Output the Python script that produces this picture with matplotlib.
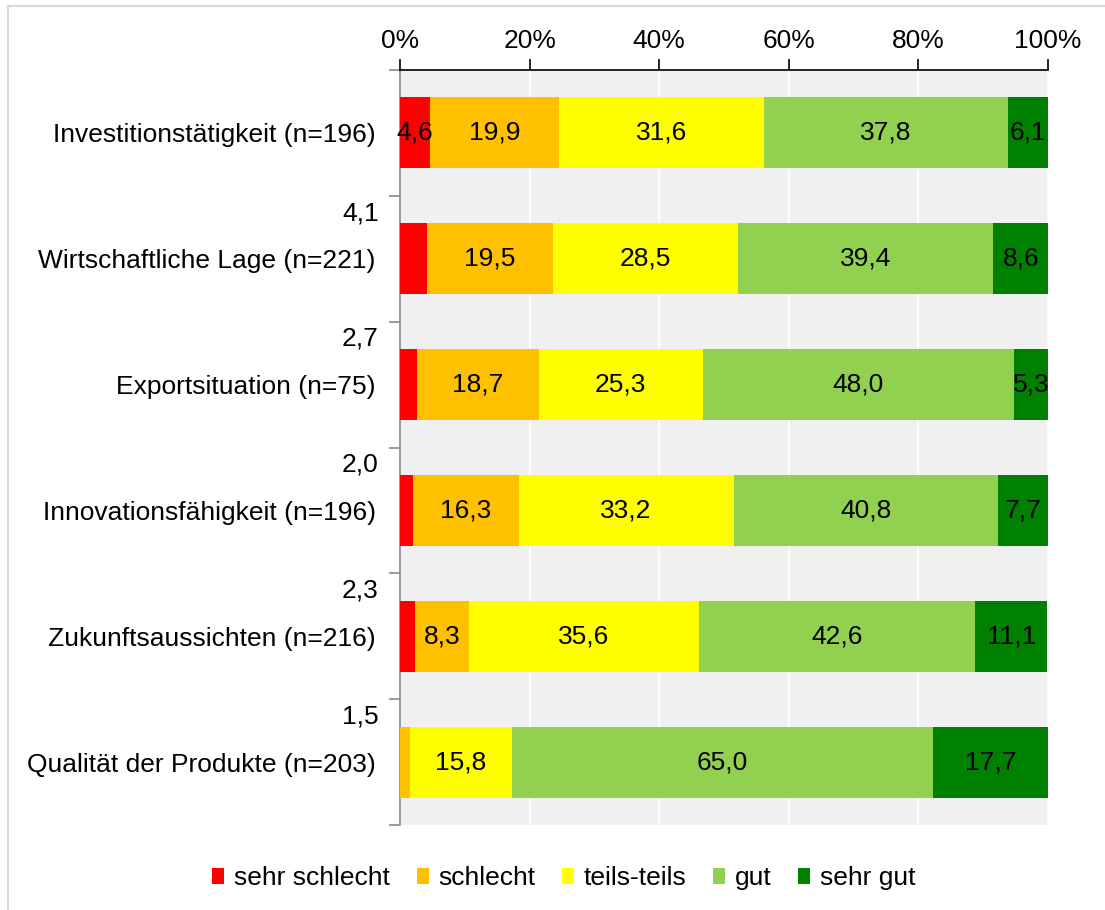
import matplotlib
matplotlib.use("Agg")
import matplotlib.pyplot as plt
from matplotlib.patches import Rectangle, Patch

plt.rcParams['font.family'] = ['Liberation Sans', 'DejaVu Sans']

categories = [
    "Investitionstätigkeit (n=196)",
    "Wirtschaftliche Lage (n=221)",
    "Exportsituation (n=75)",
    "Innovationsfähigkeit (n=196)",
    "Zukunftsaussichten (n=216)",
    "Qualität der Produkte (n=203)",
]
sehr_schlecht = [4.6, 4.1, 2.7, 2.0, 2.3, 0.0]
schlecht = [19.9, 19.5, 18.7, 16.3, 8.3, 1.5]
teils_teils = [31.6, 28.5, 25.3, 33.2, 35.6, 15.8]
gut = [37.8, 39.4, 48.0, 40.8, 42.6, 65.0]
sehr_gut = [6.1, 8.6, 5.3, 7.7, 11.1, 17.7]

series = [sehr_schlecht, schlecht, teils_teils, gut, sehr_gut]
names = ["sehr schlecht", "schlecht", "teils-teils", "gut", "sehr gut"]
colors = ["#FF0000", "#FFC000", "#FFFF00", "#92D050", "#008000"]

fs = 19
fig = plt.figure(figsize=(11.05, 9.10), dpi=100)
ax = fig.add_axes([400 / 1105, 1 - 825 / 910, 648 / 1105, 755 / 910])
ax.set_facecolor("#F0F0F0")

h = 0.565
y = list(range(len(categories)))
left = [0.0] * len(categories)
for vals, name, col in zip(series, names, colors):
    ax.barh(y, vals, left=left, height=h, color=col, label=name, zorder=3)
    for i, v in enumerate(vals):
        if v <= 0:
            continue
        lbl = f"{v:.1f}".replace(".", ",")
        if v >= 4.5:
            ax.text(left[i] + v / 2, i, lbl, ha="center", va="center",
                    fontsize=fs, zorder=4)
        else:
            # small segments get their value above the bar, left of the axis
            ax.text(-3.3, i - h / 2 - 0.025, lbl, ha="right", va="baseline",
                    fontsize=fs, clip_on=False)
    left = [a + b for a, b in zip(left, vals)]

ax.set_xlim(0, 100)
ax.set_ylim(5.5, -0.5)
ax.xaxis.tick_top()
ax.set_xticks([0, 20, 40, 60, 80, 100])
ax.set_xticklabels([f"{t}%" for t in range(0, 101, 20)], fontsize=fs)
ax.tick_params(axis="x", direction="out", length=8, width=1.2, pad=4, colors="black")
ax.grid(axis="x", color="white", linewidth=1.2, zorder=1)

ax.set_yticks(y)
ax.set_yticklabels(categories, fontsize=fs)
ax.tick_params(axis="y", which="major", length=0, pad=17.5)
ax.set_yticks([i - 0.5 for i in range(len(categories) + 1)], minor=True)
ax.tick_params(axis="y", which="minor", length=8, width=1.2, color="#898989")

for s in ["right", "bottom"]:
    ax.spines[s].set_visible(False)
ax.spines["top"].set_color("black")
ax.spines["top"].set_linewidth(1.2)
ax.spines["left"].set_color("#898989")
ax.spines["left"].set_linewidth(1.2)

handles = [Patch(facecolor=c, label=n) for c, n in zip(colors, names)]
fig.legend(handles=handles, loc="center", bbox_to_anchor=(564 / 1105, 1 - 878 / 910),
           ncol=5, frameon=False, fontsize=fs, handlelength=0.45,
           handleheight=0.55, handletextpad=0.38, columnspacing=1.0)

fig.patches.append(Rectangle((7.5 / 1105, -0.1), 1.2, 1 - 6.5 / 910 + 0.1,
                             transform=fig.transFigure, fill=False,
                             edgecolor="#D9D9D9", linewidth=1.5))

fig.savefig("out.png", dpi=100)
